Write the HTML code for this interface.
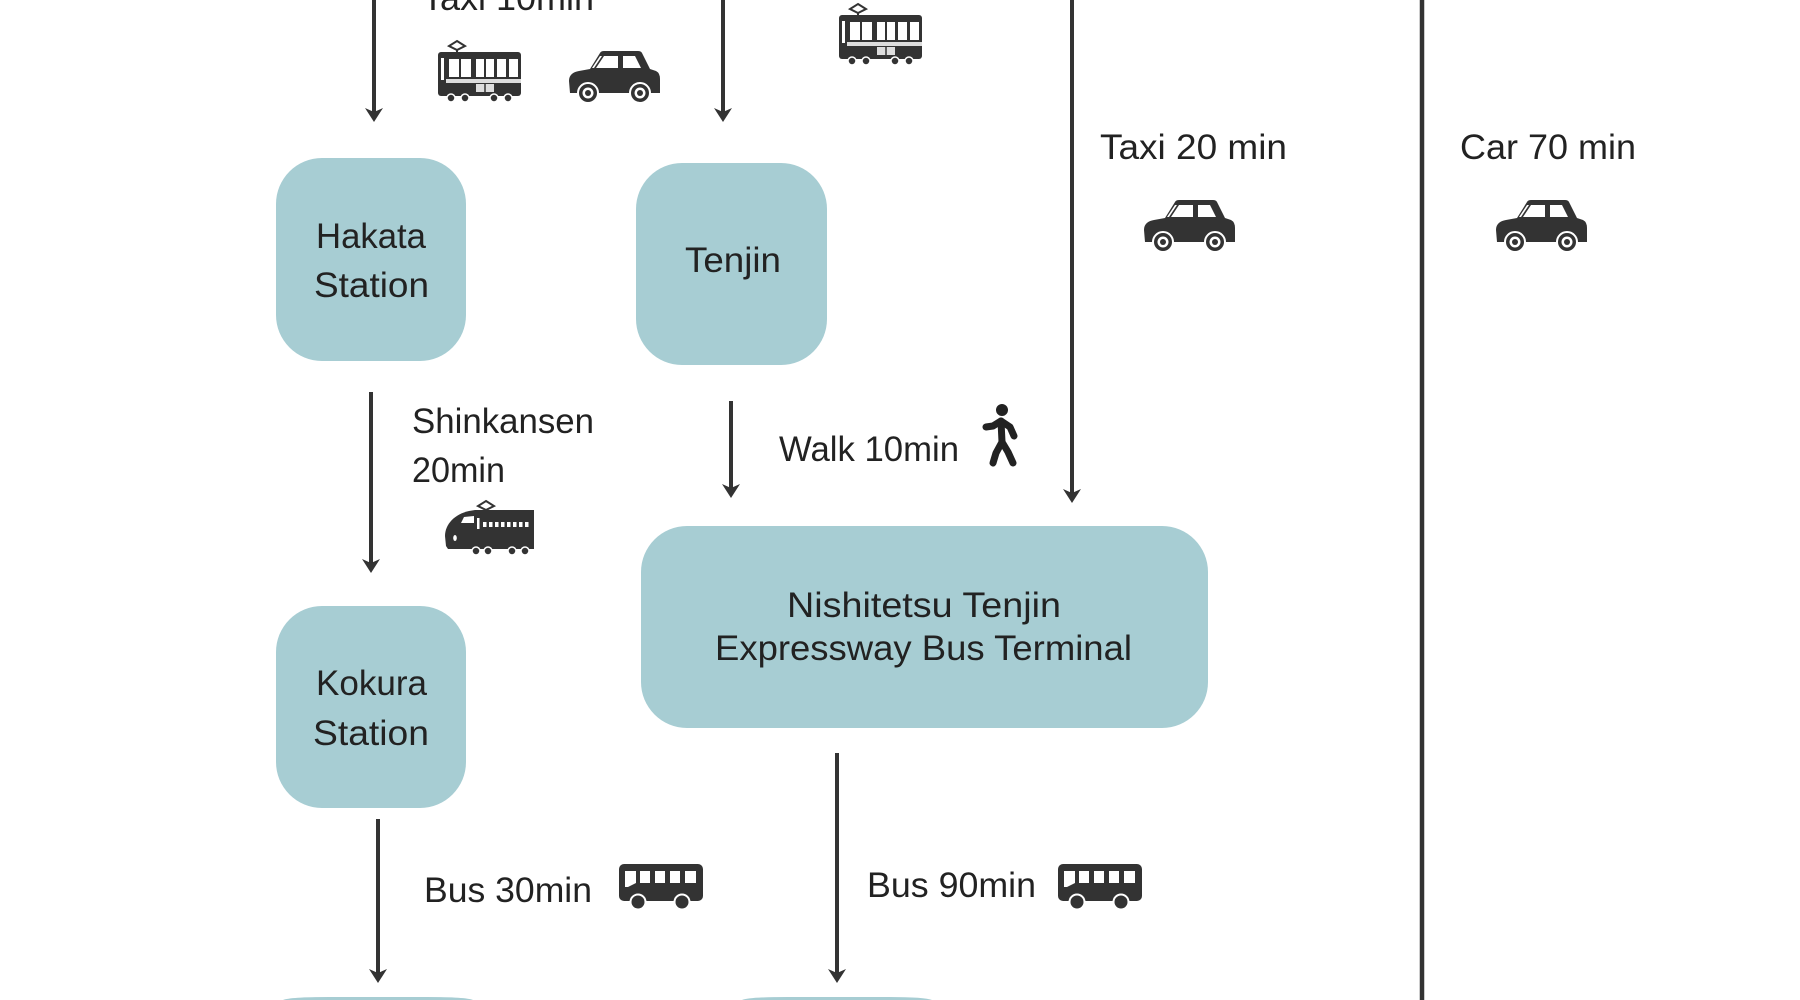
<!DOCTYPE html>
<html>
<head>
<meta charset="utf-8">
<style>
  html,body{margin:0;padding:0;background:#fff;width:1800px;height:1000px;overflow:hidden;}
  svg{display:block;}
  text{font-family:"Liberation Sans","Noto Sans CJK JP",sans-serif;font-size:35px;fill:#222;}
</style>
</head>
<body>
<svg width="1800" height="1000" viewBox="0 0 1800 1000" xmlns="http://www.w3.org/2000/svg">
  <defs>
    <g id="tram">
      <path d="M21 1 L29 6 L21 10 L13 6 Z" fill="none" stroke="#333" stroke-width="2"/>
      <line x1="21" y1="10" x2="21" y2="13" stroke="#333" stroke-width="2"/>
      <rect x="2" y="12" width="83" height="44" rx="3" fill="#333"/>
      <rect x="5" y="18" width="3" height="22" fill="#fff"/>
      <rect x="13" y="19" width="10" height="18" fill="#fff"/>
      <rect x="25" y="19" width="10" height="18" fill="#fff"/>
      <rect x="40" y="19" width="8" height="18" fill="#fff"/>
      <rect x="50" y="19" width="8" height="18" fill="#fff"/>
      <rect x="61" y="19" width="9" height="18" fill="#fff"/>
      <rect x="73" y="19" width="9" height="18" fill="#fff"/>
      <rect x="10" y="39" width="75" height="4" fill="#ddd"/>
      <rect x="40" y="44" width="18" height="8" fill="#ddd"/>
      <line x1="49" y1="44" x2="49" y2="52" stroke="#333" stroke-width="1.5"/>
      <circle cx="15" cy="58" r="4" fill="#333" stroke="#fff" stroke-width="1.5"/>
      <circle cx="29" cy="58" r="4" fill="#333" stroke="#fff" stroke-width="1.5"/>
      <circle cx="58" cy="58" r="4" fill="#333" stroke="#fff" stroke-width="1.5"/>
      <circle cx="72" cy="58" r="4" fill="#333" stroke="#fff" stroke-width="1.5"/>
    </g>
    <g id="car">
      <path d="M3 44 L2 32 C2 26 6 23 12 22 L23 20 L33 4 Q34 2 37 2 L71 2 Q74 2 75 4 L83 20 L89 22 Q93 24 93 30 L93 44 Z" fill="#333"/>
      <path d="M37 7 L51 7 L51 19 L29 19 Z" fill="#fff"/>
      <path d="M56 7 L68 7 L74 19 L56 19 Z" fill="#fff"/>
      <path d="M33 7 L35 7 L27 19 L25 19 Z" fill="#fff"/>
      <circle cx="21" cy="44" r="10" fill="#333" stroke="#fff" stroke-width="2"/>
      <circle cx="21" cy="44" r="5.5" fill="#fff"/>
      <circle cx="21" cy="44" r="3" fill="#333"/>
      <circle cx="73" cy="44" r="10" fill="#333" stroke="#fff" stroke-width="2"/>
      <circle cx="73" cy="44" r="5.5" fill="#fff"/>
      <circle cx="73" cy="44" r="3" fill="#333"/>
    </g>
    <g id="bus">
      <rect x="0" y="0" width="84" height="37" rx="5" fill="#333"/>
      <path d="M6 7 L17 7 L17 19 L9 23 L6 23 Z" fill="#fff"/>
      <rect x="21" y="7" width="10" height="12" fill="#fff"/>
      <rect x="36" y="7" width="10" height="12" fill="#fff"/>
      <rect x="51" y="7" width="10" height="12" fill="#fff"/>
      <rect x="66" y="7" width="11" height="12" fill="#fff"/>
      <circle cx="19" cy="38" r="7.5" fill="#333" stroke="#fff" stroke-width="2"/>
      <circle cx="63" cy="38" r="7.5" fill="#333" stroke="#fff" stroke-width="2"/>
    </g>
    <clipPath id="frame"><rect x="0" y="0" width="1800" height="1000"/></clipPath>
  </defs>

  <g clip-path="url(#frame)">
  <!-- Boxes -->
  <g fill="#a7cdd3">
    <rect x="276" y="158" width="190" height="203" rx="46"/>
    <rect x="636" y="163" width="191" height="202" rx="46"/>
    <rect x="641" y="526" width="567" height="202" rx="46"/>
    <rect x="276" y="606" width="190" height="202" rx="46"/>
    <path d="M283 1000 Q290 997 329 997 L427 997 Q466 997 473 1000 Z"/>
    <path d="M742 1000 Q749 997 788 997 L886 997 Q925 997 932 1000 Z"/>
  </g>

  <!-- Lines and arrows -->
  <g stroke="#333" stroke-width="4" fill="none">
    <line x1="374" y1="0" x2="374" y2="112"/>
    <line x1="723" y1="0" x2="723" y2="112"/>
    <line x1="1072" y1="0" x2="1072" y2="493"/>
    <line x1="1422" y1="0" x2="1422" y2="1000" stroke-width="4.5"/>
    <line x1="371" y1="392" x2="371" y2="563"/>
    <line x1="731" y1="401" x2="731" y2="488"/>
    <line x1="378" y1="819" x2="378" y2="973"/>
    <line x1="837" y1="753" x2="837" y2="973"/>
  </g>
  <g fill="#333">
    <path d="M374 122 L365 108 L374 112 L383 108 Z"/>
    <path d="M723 122 L714 108 L723 112 L732 108 Z"/>
    <path d="M1072 503 L1063 489 L1072 493 L1081 489 Z"/>
    <path d="M371 573 L362 559 L371 563 L380 559 Z"/>
    <path d="M731 498 L722 484 L731 488 L740 484 Z"/>
    <path d="M378 983 L369 969 L378 973 L387 969 Z"/>
    <path d="M837 983 L828 969 L837 973 L846 969 Z"/>
  </g>

  <!-- Icons -->
  <use href="#tram" x="436" y="40"/>
  <use href="#tram" x="837" y="3"/>
  <use href="#car" x="567" y="49"/>
  <use href="#car" x="1142" y="198"/>
  <use href="#car" x="1494" y="198"/>
  <use href="#bus" x="619" y="864"/>
  <use href="#bus" x="1058" y="864"/>

  <!-- Shinkansen -->
  <g transform="translate(445,500)">
    <path d="M41 1 L49 6 L41 10 L33 6 Z" fill="none" stroke="#333" stroke-width="2"/>
    <line x1="41" y1="10" x2="41" y2="12" stroke="#333" stroke-width="2"/>
    <path d="M1 46 L0 36 C0 24 10 14 24 11 L30 10 L89 10 L89 49 L3 49 Z" fill="#333"/>
    <path d="M19 17 L29 16 L29 23 L16 23 Z" fill="#fff"/>
    <rect x="32" y="18" width="2.5" height="11" fill="#fff"/>
    <g fill="#fff">
      <rect x="38" y="22" width="3.5" height="5"/>
      <rect x="44" y="22" width="3.5" height="5"/>
      <rect x="50" y="22" width="3.5" height="5"/>
      <rect x="56" y="22" width="3.5" height="5"/>
      <rect x="62" y="22" width="3.5" height="5"/>
      <rect x="68" y="22" width="3.5" height="5"/>
      <rect x="74" y="22" width="3.5" height="5"/>
      <rect x="80" y="22" width="3.5" height="5"/>
    </g>
    <ellipse cx="10" cy="38" rx="1.8" ry="3" fill="#fff"/>
    <circle cx="31" cy="51" r="4" fill="#333" stroke="#fff" stroke-width="1.5"/>
    <circle cx="43" cy="51" r="4" fill="#333" stroke="#fff" stroke-width="1.5"/>
    <circle cx="67" cy="51" r="4" fill="#333" stroke="#fff" stroke-width="1.5"/>
    <circle cx="80" cy="51" r="4" fill="#333" stroke="#fff" stroke-width="1.5"/>
  </g>

  <!-- Walker -->
  <g stroke="#222" stroke-width="7" stroke-linecap="round" stroke-linejoin="round" fill="none">
    <circle cx="1002" cy="410" r="5" fill="#222" stroke-width="2"/>
    <path d="M1001 421 L1002 442"/>
    <path d="M986 427 L993 426 L1001 421 L1010 427 L1014 436"/>
    <path d="M1002 442 L996 453 L993 463"/>
    <path d="M1002 442 L1008 452 L1013 463"/>
  </g>

  <!-- Texts -->
  <text x="422" y="10" textLength="172" lengthAdjust="spacingAndGlyphs">Taxi 10min</text>
  <text x="1100" y="159" textLength="187" lengthAdjust="spacingAndGlyphs">Taxi 20 min</text>
  <text x="1460" y="159" textLength="176" lengthAdjust="spacingAndGlyphs">Car 70 min</text>

  <text x="316" y="248" textLength="110" lengthAdjust="spacingAndGlyphs">Hakata</text>
  <text x="314" y="297" textLength="115" lengthAdjust="spacingAndGlyphs">Station</text>
  <text x="685" y="272" textLength="96" lengthAdjust="spacingAndGlyphs">Tenjin</text>

  <text x="412" y="433" textLength="182" lengthAdjust="spacingAndGlyphs">Shinkansen</text>
  <text x="412" y="482" textLength="93" lengthAdjust="spacingAndGlyphs">20min</text>
  <text x="779" y="461" textLength="180" lengthAdjust="spacingAndGlyphs">Walk 10min</text>

  <text x="787" y="617" textLength="274" lengthAdjust="spacingAndGlyphs">Nishitetsu Tenjin</text>
  <text x="715" y="660" textLength="417" lengthAdjust="spacingAndGlyphs">Expressway Bus Terminal</text>

  <text x="316" y="695" textLength="111" lengthAdjust="spacingAndGlyphs">Kokura</text>
  <text x="313" y="745" textLength="116" lengthAdjust="spacingAndGlyphs">Station</text>

  <text x="424" y="902" textLength="168" lengthAdjust="spacingAndGlyphs">Bus 30min</text>
  <text x="867" y="897" textLength="169" lengthAdjust="spacingAndGlyphs">Bus 90min</text>
  </g>
</svg>
</body>
</html>
